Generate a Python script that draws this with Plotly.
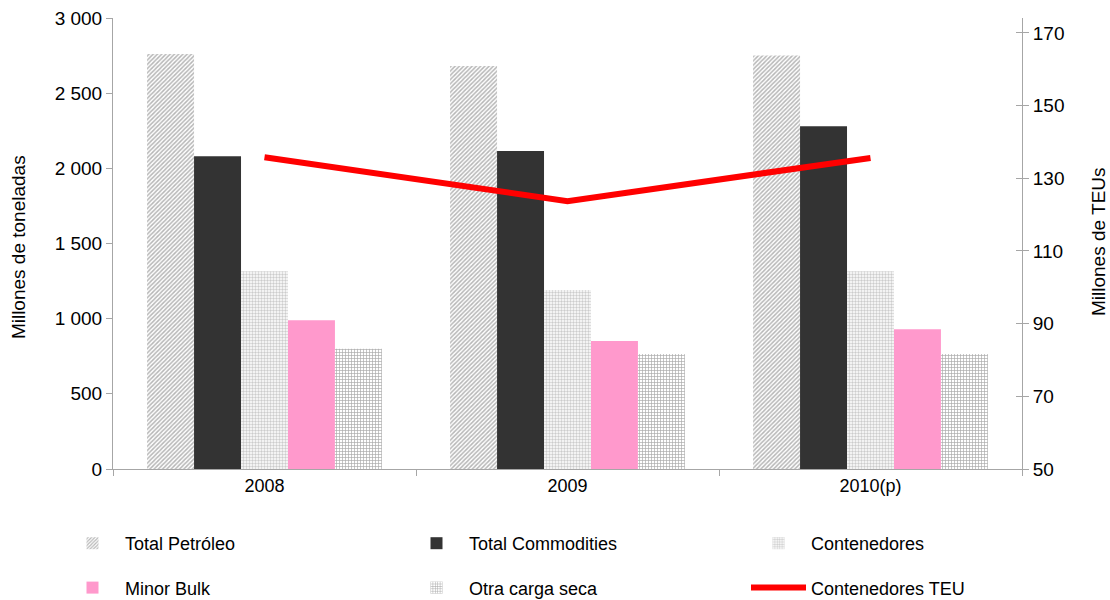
import plotly.graph_objects as go

# Categories and series (millones de toneladas / millones de TEUs)
years = ["2008", "2009", "2010(p)"]
total_petroleo = [2760, 2680, 2750]
total_commodities = [2080, 2115, 2280]
contenedores = [1315, 1190, 1315]
minor_bulk = [990, 852, 930]
otra_carga_seca = [800, 765, 765]
contenedores_teu = [135.8, 123.7, 135.6]

left_ticks = [0, 500, 1000, 1500, 2000, 2500, 3000]
right_ticks = [50, 70, 90, 110, 130, 150, 170]

FONT = "Liberation Sans, Arial, sans-serif"
AXIS_GREY = "#a6a6a6"

fig = go.Figure()

# (name, values, marker, legend column)
bar_styles = [
    ("Total Petróleo", total_petroleo,
     dict(color="white", pattern=dict(shape="/", size=3, solidity=0.5, fgcolor="#6e6e6e", bgcolor="#ffffff")),
     "legend"),
    ("Total Commodities", total_commodities, dict(color="#333333"), "legend2"),
    ("Contenedores", contenedores,
     dict(color="white", pattern=dict(shape=".", size=3, solidity=0.5, fgcolor="#9a9a9a", bgcolor="#ffffff")),
     "legend3"),
    ("Minor Bulk", minor_bulk, dict(color="#ff99cc"), "legend"),
    ("Otra carga seca", otra_carga_seca,
     dict(color="white", pattern=dict(shape="+", size=3, solidity=0.4, fgcolor="#555555", bgcolor="#ffffff")),
     "legend2"),
]

for name, vals, marker, leg in bar_styles:
    fig.add_trace(go.Bar(
        x=years, y=vals, name=name, legend=leg, legendgroup=name,
        marker=dict(line=dict(width=0), **marker),
        yaxis="y",
    ))

fig.add_trace(go.Scatter(
    x=years, y=contenedores_teu, name="Contenedores TEU",
    legend="legend3", legendgroup="teu",
    mode="lines", line=dict(color="#ff0000", width=6),
    yaxis="y2",
))

# invisible trace so the tick-crossing overlay axis is drawn
fig.add_trace(go.Scatter(
    x=years, y=contenedores_teu, mode="lines", line=dict(width=0),
    showlegend=False, hoverinfo="skip", yaxis="y3", opacity=0,
))

left_range = [0, 3000]
right_range = [50, 174.1]

legend_common = dict(
    orientation="v", xref="container", yref="container",
    xanchor="left", yanchor="top", y=0.125,
    font=dict(family=FONT, size=18), itemwidth=55,
    tracegroupgap=18, bgcolor="rgba(0,0,0,0)",
)

fig.update_layout(
    width=1110, height=600,
    margin=dict(l=113, r=88, t=18, b=131, autoexpand=False),
    paper_bgcolor="white", plot_bgcolor="white",
    separators=", ",
    font=dict(family=FONT, size=18, color="#000000"),
    barmode="group", bargap=0.225, bargroupgap=0,
    showlegend=True,
    legend=dict(x=60 / 1110, **legend_common),
    legend2=dict(x=404 / 1110, **legend_common),
    legend3=dict(x=746 / 1110, **legend_common),
    xaxis=dict(
        type="category", showline=True, linecolor=AXIS_GREY, linewidth=1,
        ticks="outside", tickson="boundaries", ticklen=6, tickcolor=AXIS_GREY,
        showgrid=False, tickfont=dict(size=18), zeroline=False,
    ),
    yaxis=dict(
        range=left_range, tickvals=left_ticks, tickformat=",.0f",
        showline=True, linecolor=AXIS_GREY, linewidth=1,
        ticks="outside", ticklen=6, tickcolor=AXIS_GREY,
        showgrid=False, zeroline=False, tickfont=dict(size=19),
    ),
    yaxis2=dict(
        range=right_range, tickvals=right_ticks, overlaying="y", side="right",
        showline=True, linecolor=AXIS_GREY, linewidth=1,
        ticks="outside", ticklen=6, tickcolor=AXIS_GREY,
        showgrid=False, zeroline=False, tickfont=dict(size=19),
    ),
    yaxis3=dict(
        range=right_range, tickvals=right_ticks, overlaying="y", side="right",
        anchor="x", showline=False, ticks="inside", ticklen=6, tickcolor=AXIS_GREY,
        showticklabels=False, showgrid=False, zeroline=False,
    ),
    annotations=[
        dict(text="Millones de toneladas", textangle=-90, showarrow=False,
             xref="paper", yref="paper", x=-0.1045, y=0.492,
             xanchor="center", yanchor="middle", font=dict(size=19)),
        dict(text="Millones de TEUs", textangle=-90, showarrow=False,
             xref="paper", yref="paper", x=1.0836, y=0.5055,
             xanchor="center", yanchor="middle", font=dict(size=19)),
    ],
)

fig.write_html("out.html")
